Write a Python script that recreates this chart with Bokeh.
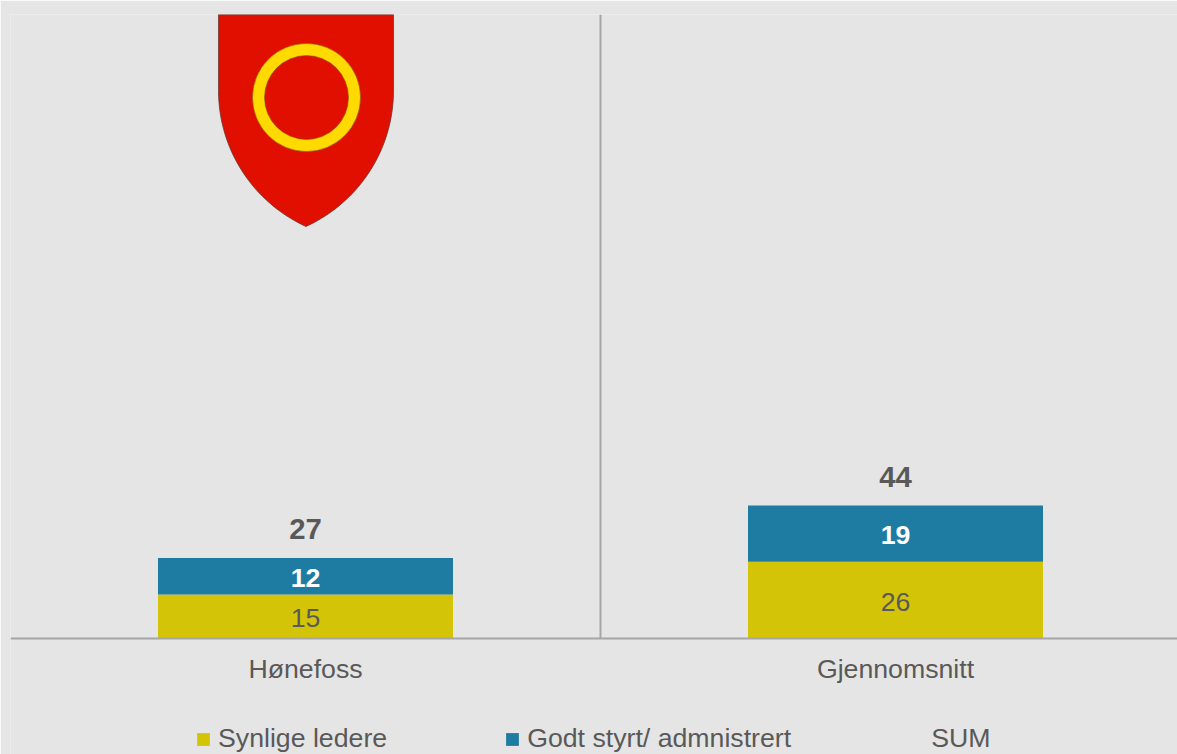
import numpy as np
from bokeh.plotting import figure
from bokeh.models import ColumnDataSource, Range1d, Span, Legend, LegendItem
from bokeh.core.properties import value
from bokeh.embed import file_html
from bokeh.resources import INLINE

# ---------------- data ----------------
categories = ["Hønefoss", "Gjennomsnitt"]
synlige_ledere = [14.7, 25.6]
godt_styrt = [12.1, 18.7]
series_names = ["Synlige ledere", "Godt styrt/ admnistrert", "SUM"]

# ---------------- style ----------------
BG = "#E5E5E5"
YELLOW = "#D3C408"
BLUE = "#1E7CA2"
TXT = "#595959"
AXIS = "#A6A6A6"
FONT = "Liberation Sans"

W, H = 1177, 754
B_LEFT, B_TOP = 10, 14
BASE_PX = 638                     # pixel row of the value 0 line
PX_PER_UNIT = 3.0
CAT_PX = 590                      # pixels per category
FRAME_W, FRAME_H = W - B_LEFT, H - B_TOP
x_end = FRAME_W / CAT_PX
y_end = (BASE_PX - B_TOP) / PX_PER_UNIT
y_start = -(H - BASE_PX) / PX_PER_UNIT

xs = [i + 0.5 for i in range(len(categories))]
totals = [a + b for a, b in zip(synlige_ledere, godt_styrt)]

src = ColumnDataSource(dict(
    x=xs,
    cat=categories,
    zero=[0] * len(categories),
    syn=synlige_ledere,
    total=totals,
    syn_mid=[v / 2 for v in synlige_ledere],
    godt_mid=[a + b / 2 for a, b in zip(synlige_ledere, godt_styrt)],
    syn_lab=[f"{v:.0f}" for v in synlige_ledere],
    godt_lab=[f"{v:.0f}" for v in godt_styrt],
    tot_lab=[f"{v:.0f}" for v in totals],
))

p = figure(width=W, height=H,
           x_range=Range1d(0, x_end), y_range=Range1d(y_start, y_end),
           output_backend="svg", toolbar_location=None,
           x_axis_location=None, y_axis_location=None,
           min_border_left=B_LEFT, min_border_right=0, min_border_top=B_TOP,
           min_border_bottom=0,
           background_fill_color=BG, border_fill_color=BG, outline_line_color=None)
p.xgrid.visible = False
p.ygrid.visible = False

# category axis line (value 0) and separator between categories
p.add_layout(Span(location=0, dimension="width", line_color=AXIS, line_width=2))
bounds = list(range(1, len(categories)))
p.segment(x0=bounds, y0=[0] * len(bounds), x1=bounds, y1=[y_end] * len(bounds),
          line_color=AXIS, line_width=2)

# ---------------- logo (decoration) ----------------
def dx(px): return (np.asarray(px, float) - B_LEFT) / CAT_PX
def dy(py): return (BASE_PX - np.asarray(py, float)) / PX_PER_UNIT

R = 149.4
t_end = np.arcsin(136 / R)
t = np.linspace(0, t_end, 40)
lx = 218 + R - R * np.cos(t)
ly = 90 + R * np.sin(t)
left_x = np.concatenate([[218], lx])
left_y = np.concatenate([[14], ly])
right_x = (2 * 305.5 - left_x)[::-1]
right_y = left_y[::-1]
sx = np.concatenate([left_x, right_x])
syy = np.concatenate([left_y, right_y])
p.patch(dx(sx), dy(syy), fill_color="#E00F00", line_color="#6b3a30", line_width=0.8)
p.annulus(x=[float(dx(306))], y=[float(dy(97))], inner_radius=42, outer_radius=54,
          inner_radius_units="screen", outer_radius_units="screen",
          fill_color="#FFDA00", line_color="#8a5a20", line_width=0.6)

# ---------------- bars ----------------
r_sum = p.vbar(x="x", bottom=0, top="total", width=0.5, source=src,
               fill_alpha=0, line_alpha=0)
r_syn = p.vbar(x="x", bottom=0, top="syn", width=0.5, source=src,
               fill_color=YELLOW, line_color=None)
r_godt = p.vbar(x="x", bottom="syn", top="total", width=0.5, source=src,
                fill_color=BLUE, line_color=None)

# ---------------- labels ----------------
p.text(x="x", y="syn_mid", text="syn_lab", source=src, text_align="center",
       text_baseline="middle", y_offset=2, text_font=value(FONT),
       text_font_size="26.7px", text_color=TXT)
p.text(x="x", y="godt_mid", text="godt_lab", source=src, text_align="center",
       text_baseline="middle", y_offset=1.5, text_font=value(FONT),
       text_font_size="26.7px", text_font_style="bold", text_color="white")
p.text(x="x", y="total", text="tot_lab", source=src, text_align="center",
       text_baseline="middle", y_offset=-29, text_font=value(FONT),
       text_font_size="29.3px", text_font_style="bold", text_color=TXT)

# category labels under the axis line
p.text(x="x", y="zero", text="cat", source=src, text_align="center",
       text_baseline="middle", y_offset=30.5, text_font=value(FONT),
       text_font_size="26.7px", text_color=TXT)

# ---------------- legend ----------------
legend = Legend(items=[
    LegendItem(label=series_names[0], renderers=[r_syn]),
    LegendItem(label=series_names[1], renderers=[r_godt]),
    LegendItem(label=series_names[2], renderers=[r_sum]),
], orientation="horizontal", location=(185, 0),
    background_fill_alpha=0, border_line_color=None, padding=0, margin=0,
    spacing=117, glyph_width=16, glyph_height=16, label_standoff=7,
    label_text_font=FONT, label_text_font_size="26.7px", label_text_color=TXT)
p.add_layout(legend)

open("out.html", "w").write(file_html(p, INLINE))
